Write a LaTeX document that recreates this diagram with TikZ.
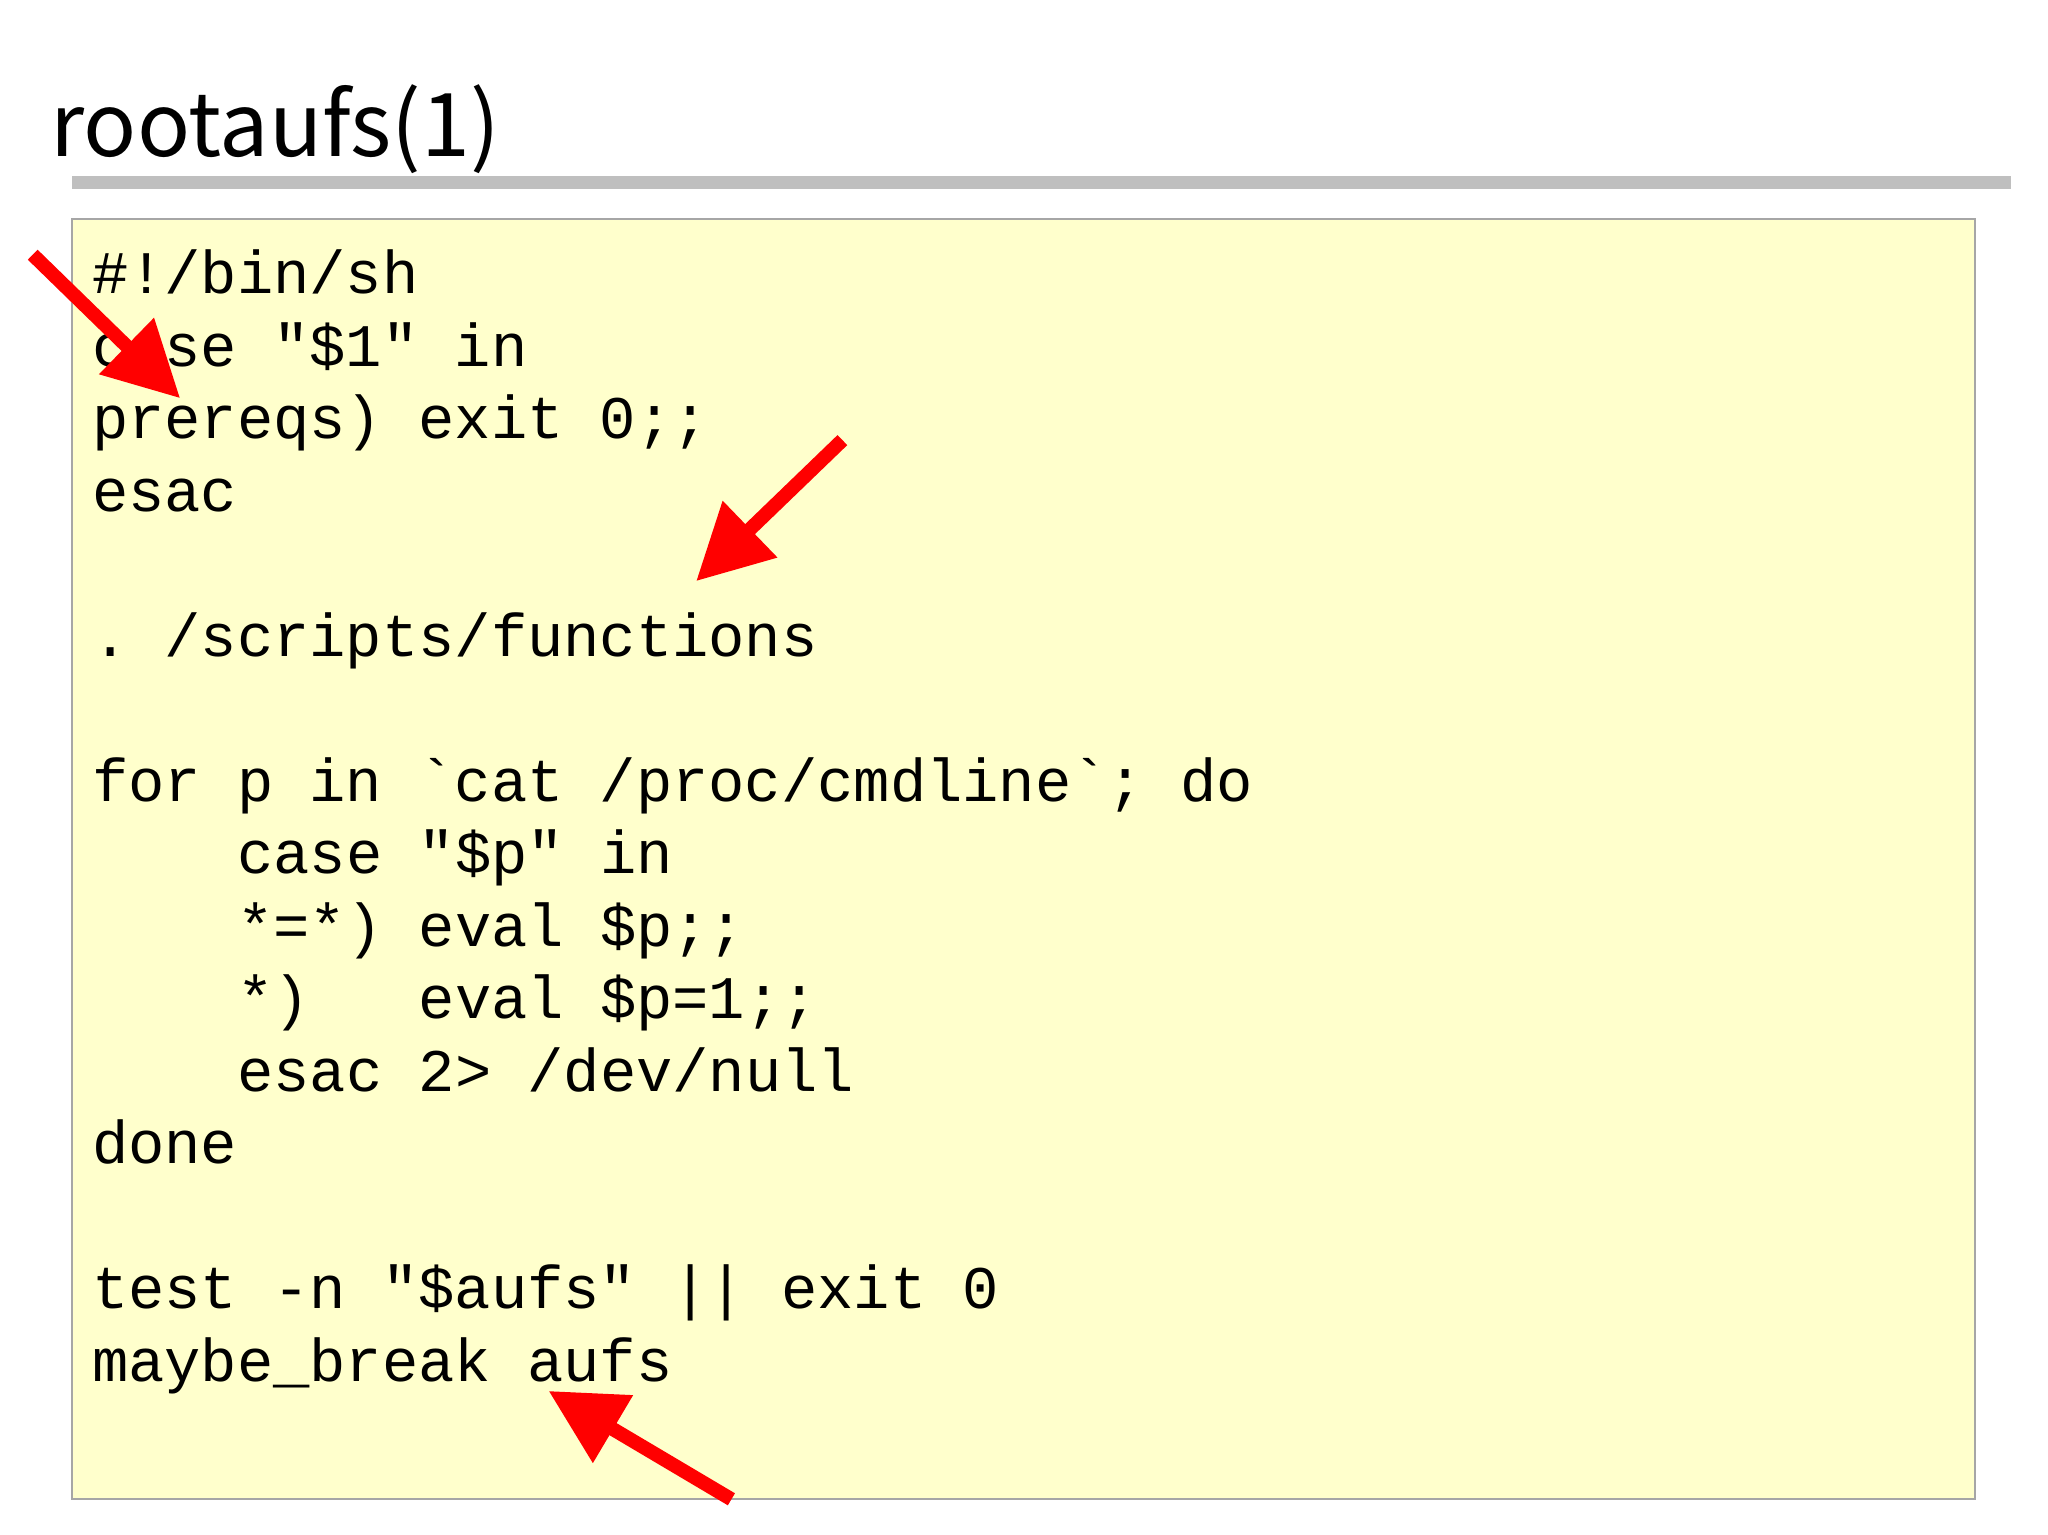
\documentclass[tikz,border=0pt]{standalone}
\usepackage{fontspec}
\setmonofont{Liberation Mono}
\newfontfamily\titlefont{Noto Sans CJK JP}
\usetikzlibrary{arrows.meta}
\definecolor{codebg}{HTML}{FFFFCC}
\tikzset{codeline/.style={anchor=base west,inner sep=0pt,font=\ttfamily\fontsize{17.2}{20}\selectfont},
redarrow/.style={draw=red,line width=0.14cm,-{Triangle[length=0.75cm,width=0.75cm]},red}}
\begin{document}
\begin{tikzpicture}
\useasboundingbox (0,0) rectangle (20.48,15.35);
\node[anchor=base west,inner sep=0pt,font=\titlefont\fontsize{25}{30}\selectfont] (title) at (0.5,13.78) {rootaufs(1)};
\fill[gray!50] (0.72,13.456) rectangle (20.11,13.587);
\draw[fill=codebg,draw=gray!70,line width=0.6pt] (0.72,0.357) rectangle (19.75,13.156);
\def\lx{0.914}\def\ix{2.367}
\newcommand{\ly}[1]{15.35-2.94-#1*0.7248}
\node[codeline] (l0) at (\lx,{\ly{0}}) {\#!/bin/sh};
\node[codeline] (l1) at (\lx,{\ly{1}}) {case "\$1" in};
\node[codeline] (l2) at (\lx,{\ly{2}}) {prereqs) exit 0;;};
\node[codeline] (l3) at (\lx,{\ly{3}}) {esac};
\node[codeline] (l5) at (\lx,{\ly{5}}) {. /scripts/functions};
\node[codeline] (l7) at (\lx,{\ly{7}}) {for p in `cat /proc/cmdline`; do};
\node[codeline] (l8) at (\ix,{\ly{8}}) {case "\$p" in};
\node[codeline] (l9) at (\ix,{\ly{9}}) {*=*) eval \$p;;};
\node[codeline] (l10) at (\ix,{\ly{10}}) {*)\ \ \ eval \$p=1;;};
\node[codeline] (l11) at (\ix,{\ly{11}}) {esac 2> /dev/null};
\node[codeline] (l12) at (\lx,{\ly{12}}) {done};
\node[codeline] (l14) at (\lx,{\ly{14}}) {test -n "\$aufs" || exit 0};
\node[codeline] (l15) at (\lx,{\ly{15}}) {maybe\_break aufs};
\coordinate (a1s) at (0.327,12.803); \coordinate (a1e) at (1.802,11.367);
\coordinate (a2s) at (8.424,10.949); \coordinate (a2e) at (6.961,9.538);
\coordinate (a3s) at (7.314,0.357); \coordinate (a3e) at (5.485,1.441);
\draw[redarrow] (a1s) -- (a1e);
\draw[redarrow] (a2s) -- (a2e);
\draw[redarrow] (a3s) -- (a3e);
\end{tikzpicture}
\end{document}
